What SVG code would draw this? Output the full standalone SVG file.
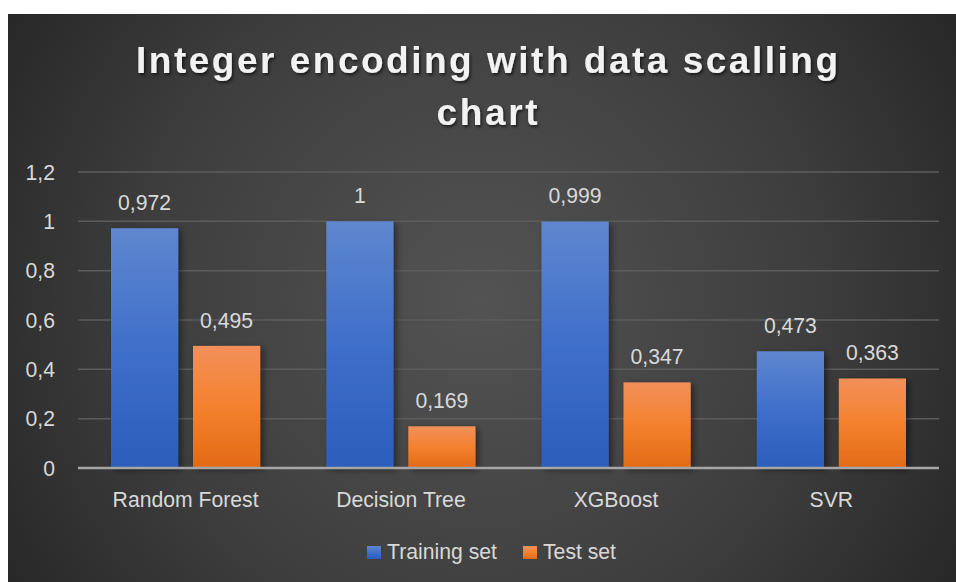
<svg xmlns="http://www.w3.org/2000/svg" width="956" height="582" viewBox="0 0 956 582">
<defs>
  <radialGradient id="bg" gradientUnits="userSpaceOnUse" cx="480" cy="300" r="600">
    <stop offset="0" stop-color="#535353"/>
    <stop offset="0.55" stop-color="#3e3e3e"/>
    <stop offset="1" stop-color="#232323"/>
  </radialGradient>
  <linearGradient id="gBlue" x1="0" y1="0" x2="0" y2="1">
    <stop offset="0" stop-color="#5f87cf"/>
    <stop offset="0.5" stop-color="#3f6fca"/>
    <stop offset="1" stop-color="#2c5dbc"/>
  </linearGradient>
  <linearGradient id="gOrange" x1="0" y1="0" x2="0" y2="1">
    <stop offset="0" stop-color="#f2905a"/>
    <stop offset="0.5" stop-color="#f4812e"/>
    <stop offset="1" stop-color="#e26a16"/>
  </linearGradient>
  <filter id="shadow" x="-20%" y="-20%" width="150%" height="150%">
    <feDropShadow dx="3" dy="2" stdDeviation="3" flood-color="#000" flood-opacity="0.45"/>
  </filter>
  <filter id="tshadow" x="-10%" y="-30%" width="120%" height="170%">
    <feDropShadow dx="1.5" dy="2" stdDeviation="1.5" flood-color="#000" flood-opacity="0.6"/>
  </filter>
</defs>
<style>
  .t { font-family: "Liberation Sans", Arial, sans-serif; fill: #d9d9d9; font-size: 21.2px; }
  .title { font-family: "Liberation Sans", Arial, sans-serif; font-weight: bold; fill: #f2f2f2; font-size: 37px; }
  .grid { stroke: #5c5c5c; stroke-width: 1.5; }
  .axis { stroke: #a6a6a6; stroke-width: 2.5; }
  .blue { fill: url(#gBlue); }
  .orange { fill: url(#gOrange); }
</style>
<rect x="0" y="0" width="956" height="582" fill="#ffffff"/>
<rect x="8" y="14" width="948" height="568" fill="url(#bg)"/>

<g id="title" filter="url(#tshadow)">
  <text class="title" x="487" y="73" text-anchor="middle" textLength="702" lengthAdjust="spacing">Integer encoding with data scalling</text>
  <text class="title" x="487" y="125" text-anchor="middle" textLength="101" lengthAdjust="spacing">chart</text>
</g>

<g id="gridlines">
  <line class="grid" x1="78" y1="172" x2="939" y2="172"/>
  <line class="grid" x1="78" y1="221.3" x2="939" y2="221.3"/>
  <line class="grid" x1="78" y1="270.7" x2="939" y2="270.7"/>
  <line class="grid" x1="78" y1="320" x2="939" y2="320"/>
  <line class="grid" x1="78" y1="369.3" x2="939" y2="369.3"/>
  <line class="grid" x1="78" y1="418.7" x2="939" y2="418.7"/>
</g>

<g id="y-axis-labels">
  <text class="t" x="55" y="179.5" text-anchor="end">1,2</text>
  <text class="t" x="55" y="228.8" text-anchor="end">1</text>
  <text class="t" x="55" y="278.2" text-anchor="end">0,8</text>
  <text class="t" x="55" y="327.5" text-anchor="end">0,6</text>
  <text class="t" x="55" y="376.8" text-anchor="end">0,4</text>
  <text class="t" x="55" y="426.2" text-anchor="end">0,2</text>
  <text class="t" x="55" y="475.5" text-anchor="end">0</text>
</g>

<g id="bars" filter="url(#shadow)">
  <rect class="blue" x="111" y="228.2" width="67.2" height="239.8"/>
  <rect class="orange" x="193" y="345.9" width="67.2" height="122.1"/>
  <rect class="blue" x="326.3" y="221.3" width="67.2" height="246.7"/>
  <rect class="orange" x="408.3" y="426.3" width="67.2" height="41.7"/>
  <rect class="blue" x="541.5" y="221.6" width="67.2" height="246.4"/>
  <rect class="orange" x="623.5" y="382.4" width="67.2" height="85.6"/>
  <rect class="blue" x="756.8" y="351.3" width="67.2" height="116.7"/>
  <rect class="orange" x="838.8" y="378.5" width="67.2" height="89.5"/>
</g>

<g id="axis">
  <line class="axis" x1="78" y1="468" x2="939" y2="468"/>
</g>

<g id="data-labels">
  <text class="t" x="144.6" y="210" text-anchor="middle">0,972</text>
  <text class="t" x="226.6" y="328" text-anchor="middle">0,495</text>
  <text class="t" x="359.9" y="203" text-anchor="middle">1</text>
  <text class="t" x="441.9" y="407.5" text-anchor="middle">0,169</text>
  <text class="t" x="575.1" y="203" text-anchor="middle">0,999</text>
  <text class="t" x="657.1" y="364" text-anchor="middle">0,347</text>
  <text class="t" x="790.4" y="333" text-anchor="middle">0,473</text>
  <text class="t" x="872.4" y="360" text-anchor="middle">0,363</text>
</g>

<g id="category-labels">
  <text class="t" x="185.6" y="507" text-anchor="middle">Random Forest</text>
  <text class="t" x="400.9" y="507" text-anchor="middle">Decision Tree</text>
  <text class="t" x="616.1" y="507" text-anchor="middle">XGBoost</text>
  <text class="t" x="831.4" y="507" text-anchor="middle">SVR</text>
</g>

<g id="legend">
  <rect class="blue" x="367" y="546" width="14" height="13"/>
  <text class="t" x="387" y="559">Training set</text>
  <rect class="orange" x="523" y="546" width="14" height="13"/>
  <text class="t" x="543" y="559">Test set</text>
</g>
</svg>
